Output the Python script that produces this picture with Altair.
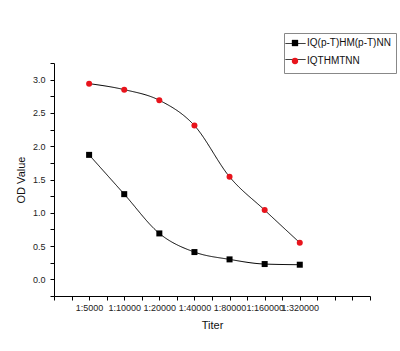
import json
import altair as alt
import pandas as pd

titers = ["1:5000", "1:10000", "1:20000", "1:40000", "1:80000", "1:160000", "1:320000"]
series_names = ["IQ(p-T)HM(p-T)NN", "IQTHMTNN"]
od_black = [1.87, 1.28, 0.69, 0.41, 0.30, 0.23, 0.22]
od_red = [2.94, 2.85, 2.69, 2.31, 1.54, 1.04, 0.55]

rows = []
for name, vals in zip(series_names, [od_black, od_red]):
    for i, (t, v) in enumerate(zip(titers, vals)):
        rows.append({"pos": i + 1, "titer": t, "series": name, "series_l": name, "od": v})
df = pd.DataFrame(rows)

FONT = "Liberation Sans"
x_ticks = [k * 0.5 for k in range(19)]
y_ticks = [-0.25 + 0.25 * k for k in range(15)]
label_arr = json.dumps(titers)
x_label_expr = (
    f"(datum.value % 1 == 0 && datum.value >= 1 && datum.value <= {len(titers)}) ? "
    f"{label_arr}[datum.value - 1] : ''"
)
y_label_expr = (
    "(datum.value >= 0 && abs(datum.value * 2 - round(datum.value * 2)) < 1e-6) ? "
    "format(datum.value, '.1f') : ''"
)

x_enc = alt.X(
    "pos:Q",
    scale=alt.Scale(domain=[0, 9], nice=False, zero=False),
    axis=alt.Axis(
        title="Titer", values=x_ticks, labelExpr=x_label_expr, labelOverlap=False,
        labelFlush=False, grid=False, tickSize=4, labelPadding=3, titlePadding=7,
        labelFontSize=9, titleFontSize=11, labelFont=FONT, titleFont=FONT,
        labelColor="#222", titleColor="#111", domainColor="#000", tickColor="#000",
        titleFontWeight="normal",
    ),
)
y_enc = alt.Y(
    "od:Q",
    scale=alt.Scale(domain=[-0.25, 3.25], nice=False, zero=False),
    axis=alt.Axis(
        title="OD Value", values=y_ticks, labelExpr=y_label_expr, labelOverlap=False,
        labelFlush=False, grid=False, tickSize=4, labelPadding=5, titlePadding=6,
        labelFontSize=9, titleFontSize=11, labelFont=FONT, titleFont=FONT,
        labelColor="#222", titleColor="#111", domainColor="#000", tickColor="#000",
        titleFontWeight="normal",
    ),
)

lines = alt.Chart(df).mark_line(color="#000", strokeWidth=1, interpolate="monotone").encode(
    x=x_enc,
    y=y_enc,
    strokeDash=alt.StrokeDash(
        "series_l:N",
        scale=alt.Scale(range=[[1, 0], [1, 0]]),
        legend=alt.Legend(
            title=None, orient="none", legendX=231, legendY=-30, symbolType="stroke",
            symbolSize=400, symbolStrokeColor="#000", symbolStrokeWidth=1,
            labelExpr="''", labelOffset=0, padding=0, rowPadding=-6,
        ),
    ),
)

points = alt.Chart(df).mark_point(filled=True, size=36, opacity=1).encode(
    x=x_enc,
    y=y_enc,
    color=alt.Color(
        "series:N",
        scale=alt.Scale(domain=series_names, range=["#000000", "#e8141c"]),
        legend=alt.Legend(
            title=None, orient="none", legendX=230, legendY=-30, symbolSize=40,
            symbolOffset=1, labelFont=FONT, labelFontSize=10, labelColor="#111",
            labelOffset=7, padding=5, rowPadding=4, labelLimit=200,
            symbolOpacity=1, strokeColor="#888",
        ),
    ),
    shape=alt.Shape(
        "series:N",
        scale=alt.Scale(domain=series_names, range=["square", "circle"]),
    ),
)

chart = (
    alt.layer(lines, points)
    .properties(
        width=316, height=233,
        autosize=alt.AutoSizeParams(type="none"),
        padding={"left": 54, "top": 63, "right": 30, "bottom": 55},
        background="#ffffff",
    )
    .configure_view(stroke=None)
)

chart.save("out.html", embed_options={"renderer": "svg", "actions": False})
